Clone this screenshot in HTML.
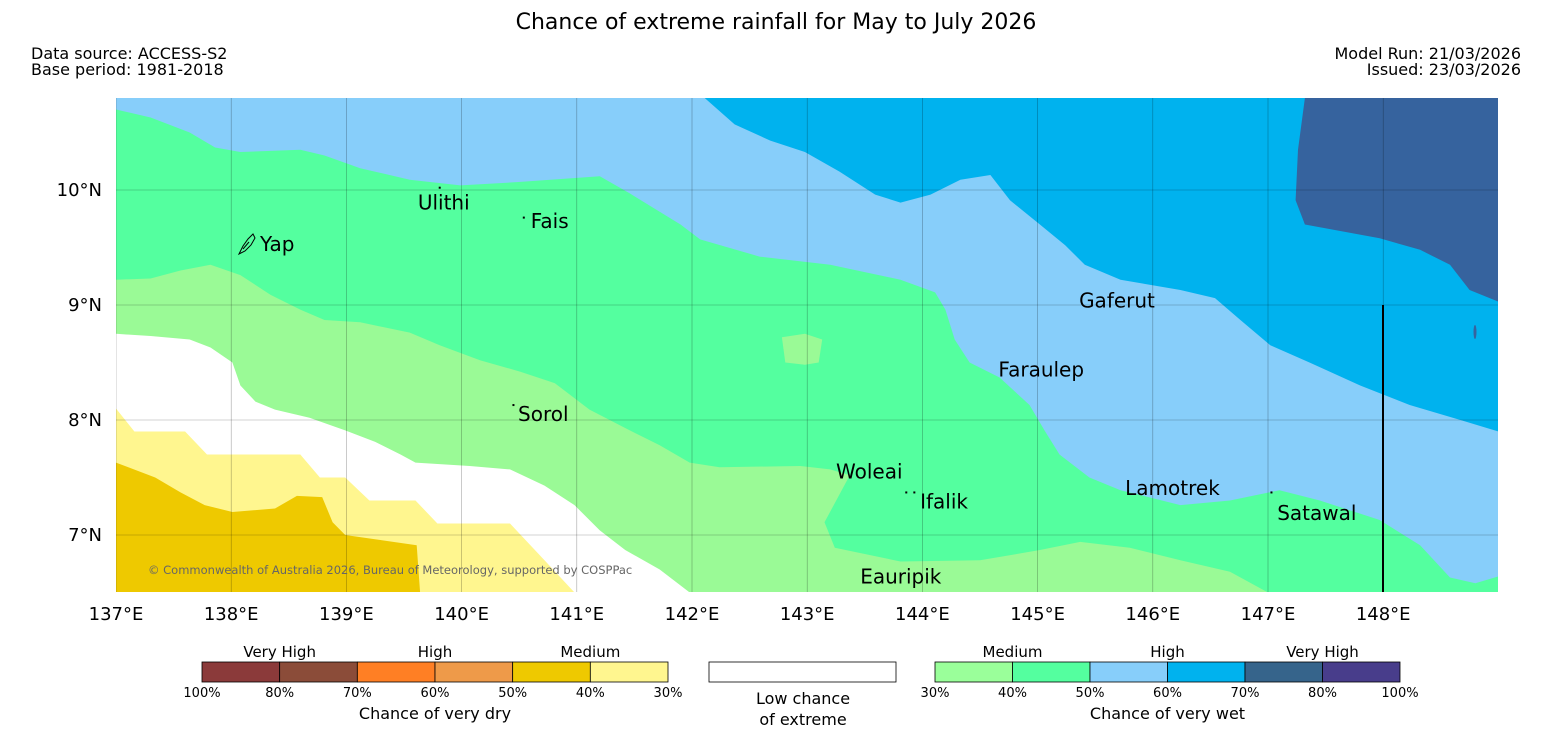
<!DOCTYPE html>
<html><head><meta charset="utf-8">
<style>
html,body{margin:0;padding:0;background:#fff;}
svg{display:block;font-family:"DejaVu Sans","Liberation Sans",sans-serif;}
</style></head>
<body>
<svg id="chart" width="1552" height="736" viewBox="0 0 1552 736" xmlns="http://www.w3.org/2000/svg">
<text x="776" y="29" font-size="22" text-anchor="middle">Chance of extreme rainfall for May to July 2026</text>
<text x="31" y="59" font-size="16">Data source: ACCESS-S2</text>
<text x="31" y="75" font-size="16">Base period: 1981-2018</text>
<text x="1521" y="59" font-size="16" text-anchor="end">Model Run: 21/03/2026</text>
<text x="1521" y="75" font-size="16" text-anchor="end">Issued: 23/03/2026</text>
<defs><clipPath id="mapclip"><rect x="116" y="98" width="1382" height="494"/></clipPath></defs>
<g id="map" clip-path="url(#mapclip)"></g>
<g id="axes"></g>
<g id="legend"></g>
</svg>
<script>
const NS="http://www.w3.org/2000/svg";
const lonTicks=[137,138,139,140,141,142,143,144,145,146,147,148];
const latTicks=[10,9,8,7];
const lonRange=[137,149];
const latRange=[6.5,10.8];
const bluePoly=[[142.11,10.8],[142.37,10.57],[142.68,10.43],[142.98,10.33],[143.28,10.16],[143.59,9.96],[143.81,9.89],[144.07,9.96],[144.33,10.09],[144.59,10.13],[144.76,9.91],[145.02,9.70],[145.24,9.52],[145.41,9.35],[145.72,9.22],[146.24,9.13],[146.54,9.06],[146.76,8.87],[147.02,8.65],[147.36,8.50],[147.80,8.30],[148.23,8.13],[148.67,8.00],[149,7.90],[149,10.8]];
const darkBluePoly=[[147.32,10.8],[147.26,10.35],[147.24,9.91],[147.32,9.70],[147.97,9.58],[148.32,9.48],[148.58,9.35],[148.75,9.13],[149,9.03],[149,10.8]];
const greenPoly=[[137,10.70],[137.30,10.63],[137.64,10.50],[137.86,10.37],[138.08,10.33],[138.60,10.35],[138.81,10.30],[139.12,10.19],[139.55,10.09],[139.99,10.04],[140.51,10.07],[141.20,10.12],[141.46,9.97],[141.90,9.70],[142.07,9.57],[142.59,9.42],[143.20,9.35],[143.81,9.22],[144.11,9.11],[144.20,8.96],[144.28,8.70],[144.41,8.50],[144.67,8.37],[144.93,8.13],[145.06,7.91],[145.19,7.70],[145.45,7.50],[145.72,7.39],[146.24,7.26],[146.67,7.30],[147.10,7.39],[147.45,7.30],[147.97,7.13],[148.32,6.91],[148.58,6.63],[148.80,6.58],[149,6.64],[149,6.5],[137,6.5]];
const lightGreenPoly=[[137,9.22],[137.30,9.23],[137.56,9.30],[137.82,9.35],[138.08,9.26],[138.34,9.09],[138.60,8.96],[138.81,8.87],[139.12,8.85],[139.55,8.76],[139.81,8.65],[140.16,8.52],[140.51,8.42],[140.81,8.32],[141.11,8.09],[141.46,7.91],[141.72,7.78],[141.98,7.63],[142.24,7.59],[142.94,7.60],[143.20,7.57],[143.37,7.52],[143.15,7.11],[143.24,6.89],[143.81,6.77],[144.50,6.78],[145.02,6.87],[145.37,6.94],[145.80,6.89],[146.24,6.78],[146.67,6.68],[147.00,6.5],[137,6.5]];
const lightGreenPatch=[[142.78,8.72],[142.98,8.75],[143.13,8.70],[143.10,8.50],[142.98,8.48],[142.81,8.50]];
const whitePoly=[[137,8.75],[137.30,8.73],[137.64,8.70],[137.82,8.63],[138.01,8.50],[138.08,8.30],[138.21,8.16],[138.38,8.09],[138.68,8.02],[138.99,7.91],[139.25,7.81],[139.47,7.70],[139.60,7.63],[140.07,7.60],[140.42,7.57],[140.72,7.43],[140.98,7.26],[141.20,7.04],[141.42,6.87],[141.72,6.70],[141.98,6.5],[137,6.5]];
const yellowPoly=[[137,8.10],[137.16,7.90],[137.60,7.90],[137.79,7.70],[138.60,7.70],[138.77,7.50],[138.99,7.50],[139.20,7.30],[139.60,7.30],[139.79,7.10],[140.42,7.10],[140.72,6.78],[140.98,6.5],[137,6.5]];
const goldPoly=[[137,7.63],[137.34,7.50],[137.56,7.37],[137.77,7.26],[138.01,7.20],[138.38,7.23],[138.57,7.34],[138.79,7.33],[138.88,7.11],[138.99,7.00],[139.61,6.91],[139.64,6.5],[137,6.5]];
const places=["Ulithi","Fais","Yap","Gaferut","Faraulep","Sorol","Woleai","Ifalik","Lamotrek","Satawal","Eauripik"];
const placeLon=[139.62,140.60,138.25,145.36,144.66,140.49,143.25,143.98,145.76,147.08,143.46];
const placeLat=[9.83,9.67,9.47,8.98,8.38,7.99,7.49,7.23,7.35,7.13,6.58];
const islandLon=[139.81,140.54,140.45,143.86,143.93,147.03];
const islandLat=[10.02,9.76,8.13,7.37,7.37,7.37];
const dryTicks=["100%","80%","70%","60%","50%","40%","30%"];
const wetTicks=["30%","40%","50%","60%","70%","80%","100%"];
const dryColors=["#8B3A3A","#8B4C39","#FF7F24","#EE9A49","#EEC900","#FFF68F"];
const wetColors=["#9AFF9A","#54FF9F","#87CEFA","#00B2EE","#36648B","#483D8B"];

function xs(lon){return 116+(lon-137)*115.2;}
function ys(lat){return 190+(10-lat)*115;}
function mk(tag,attrs,parent){const e=document.createElementNS(NS,tag);for(const k in attrs)e.setAttribute(k,attrs[k]);parent.appendChild(e);return e;}
const map=document.getElementById('map');
const axes=document.getElementById('axes');
const legend=document.getElementById('legend');

let bg=mk('rect',{x:116,y:98,width:1382,height:494,fill:'#87CEFA'},map);


function poly(pts,fill,name){
  const p=mk('polygon',{points:pts.map(q=>xs(q[0]).toFixed(1)+','+ys(q[1]).toFixed(1)).join(' '),fill:fill},map);
  
  
}
poly(bluePoly,'#00B2EE','region-blue');
poly(darkBluePoly,'#36639E','region-dark-blue');
poly(greenPoly,'#54FF9F','region-green');
poly(lightGreenPoly,'#9AFA96','region-light-green');
poly(lightGreenPatch,'#9AFA96','region-light-green-patch');
poly(whitePoly,'#FFFFFF','region-low-chance');
poly(yellowPoly,'#FFF68F','region-light-yellow');
poly(goldPoly,'#EEC900','region-gold');
let blip=mk('ellipse',{cx:1475,cy:332,rx:1.5,ry:7,fill:'#36639E'},map);



lonTicks.concat([149]).forEach(l=>{
  const g=mk('line',{x1:xs(l),x2:xs(l),y1:98,y2:592,stroke:'#000','stroke-opacity':0.35,'stroke-width':0.6},map);
  
  
});
latTicks.forEach(l=>{
  const g=mk('line',{x1:116,x2:1498,y1:ys(l),y2:ys(l),stroke:'#000','stroke-opacity':0.35,'stroke-width':0.6},map);
  
  
});
let vl=mk('line',{x1:1383,x2:1383,y1:305,y2:592,stroke:'#000','stroke-width':2},map);



places.forEach((n,i)=>{
  const t=mk('text',{x:xs(placeLon[i]),y:ys(placeLat[i]),'font-size':20,fill:'#000'},map);
  t.textContent=n;
  
  
});
islandLon.forEach((l,i)=>{
  const c=mk('rect',{x:xs(l)-1,y:ys(islandLat[i])-1,width:2,height:2,fill:'#000'},map);
  
  
});
let yap=mk('path',{d:'M239,254 L243,246 L248,239 L253,234 L255,238 L251,245 L245,251 Z M243,249 L249,242',fill:'none',stroke:'#000','stroke-width':1},map);


let cr=mk('text',{x:148,y:574,'font-size':11.5,fill:'#666'},map);
cr.textContent='© Commonwealth of Australia 2026, Bureau of Meteorology, supported by COSPPac';



lonTicks.forEach(l=>{
  const t=mk('text',{x:xs(l),y:620,'font-size':18,'text-anchor':'middle'},axes);
  t.textContent=l+'°E';
  
  
});
latTicks.forEach(l=>{
  const t=mk('text',{x:102,y:ys(l)+6,'font-size':18,'text-anchor':'end'},axes);
  t.textContent=l+'°N';
  
  
});

function bar(x0,x1,colors,ticks,cats,title,prefix){
  const w=(x1-x0)/colors.length;
  colors.forEach((c,i)=>{
    const r=mk('rect',{x:x0+i*w,y:662,width:w,height:20,fill:c,stroke:'#000','stroke-width':0.8},legend);
    
    
  });
  ticks.forEach((t,i)=>{
    const e=mk('text',{x:x0+i*w,y:697,'font-size':13,'text-anchor':'middle'},legend);
    e.textContent=t;
    
    
  });
  cats.forEach((c,i)=>{
    const e=mk('text',{x:x0+(2*i+1)*w,y:657,'font-size':15,'text-anchor':'middle'},legend);
    e.textContent=c;
    
    
  });
  const e=mk('text',{x:(x0+x1)/2,y:719,'font-size':16,'text-anchor':'middle'},legend);
  e.textContent=title;
  
  
}
bar(202,668,dryColors,dryTicks,["Very High","High","Medium"],"Chance of very dry","dry-legend");
bar(935,1400,wetColors,wetTicks,["Medium","High","Very High"],"Chance of very wet","wet-legend");
let lw=mk('rect',{x:709,y:662,width:187,height:20,fill:'#fff',stroke:'#000','stroke-width':0.8},legend);


let l1=mk('text',{x:803,y:704,'font-size':16,'text-anchor':'middle'},legend);l1.textContent='Low chance';


let l2=mk('text',{x:803,y:725,'font-size':16,'text-anchor':'middle'},legend);l2.textContent='of extreme';


</script>
</body></html>
